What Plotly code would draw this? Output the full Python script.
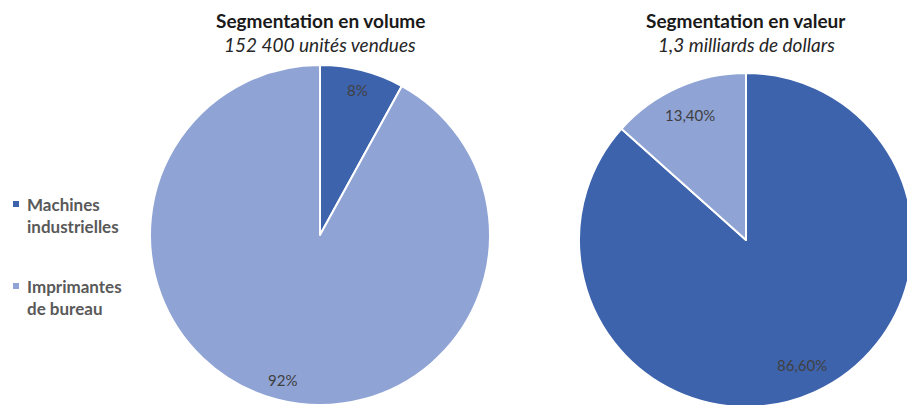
import math
import plotly.graph_objects as go

# ---- data ----
segments = ["Machines<br>industrielles", "Imprimantes<br>de bureau"]
volume_share = [8, 92]
value_share = [86.6, 13.4]
volume_labels = ["8%", "92%"]
value_labels = ["86,60%", "13,40%"]
titles = ["Segmentation en volume", "Segmentation en valeur"]
subtitles = ["152 400 unités vendues", "1,3 milliards de dollars"]

colors = ["#3E63AD", "#8FA3D5"]
W, H = 915, 411
FONT = "Lato, 'Open Sans', sans-serif"

# geometry (pixels)
pies = [
    dict(cx=320, cy=235, r=170, vals=volume_share, txt=volume_labels, frac=0.88),
    dict(cx=746, cy=240, r=167, vals=value_share, txt=value_labels, frac=0.82),
]

fig = go.Figure()
annotations = []
for p in pies:
    dom_x = [(p["cx"] - p["r"]) / W, (p["cx"] + p["r"]) / W]
    dom_y = [(H - p["cy"] - p["r"]) / H, (H - p["cy"] + p["r"]) / H]
    fig.add_trace(go.Pie(
        labels=segments, values=p["vals"], sort=False, direction="clockwise",
        rotation=0, textinfo="none", hoverinfo="label+percent",
        marker=dict(colors=colors, line=dict(color="white", width=2)),
        domain=dict(x=dom_x, y=dom_y), showlegend=False,
    ))
    total = sum(p["vals"])
    cum = 0
    for v, t in zip(p["vals"], p["txt"]):
        mid = (cum + v / 2) / total * 2 * math.pi
        cum += v
        d = p["r"] * p["frac"]
        px = p["cx"] + d * math.sin(mid)
        py = p["cy"] - d * math.cos(mid)
        annotations.append(dict(x=px / W, y=(H - py) / H, xref="paper", yref="paper",
                                xanchor="center", yanchor="middle",
                                text=t, showarrow=False,
                                font=dict(family=FONT, size=15, color="#404040")))

for p, t, s in zip(pies, titles, subtitles):
    annotations.append(dict(x=p["cx"] / W, y=(H - 20) / H, xref="paper", yref="paper",
                            xanchor="center", yanchor="middle",
                            text="<b>" + t + "</b>", showarrow=False,
                            font=dict(family=FONT, size=19, color="#1a1a1a")))
    annotations.append(dict(x=p["cx"] / W, y=(H - 45) / H, xref="paper", yref="paper",
                            xanchor="center", yanchor="middle",
                            text="<i>" + s + "</i>", showarrow=False,
                            font=dict(family=FONT, size=19, color="#262626")))

# manual legend
shapes = []
leg_y = [204, 286]
for c, name, y in zip(colors, segments, leg_y):
    shapes.append(dict(type="rect", xref="paper", yref="paper",
                       x0=13 / W, x1=19 / W, y0=(H - y - 3) / H, y1=(H - y + 3) / H,
                       fillcolor=c, line=dict(width=0)))
    annotations.append(dict(x=25 / W, y=(H - y - 11) / H, xref="paper", yref="paper",
                            xanchor="left", yanchor="middle", align="left",
                            text="<b>" + name + "</b>", showarrow=False,
                            font=dict(family=FONT, size=17, color="#595959")))

fig.update_layout(
    width=W, height=H, margin=dict(l=0, r=0, t=0, b=0),
    paper_bgcolor="white", plot_bgcolor="white",
    annotations=annotations, shapes=shapes, showlegend=False,
)

fig.write_html("out.html", post_script="document.documentElement.style.overflow='hidden';document.body.style.overflow='hidden';document.body.style.margin='0';")
